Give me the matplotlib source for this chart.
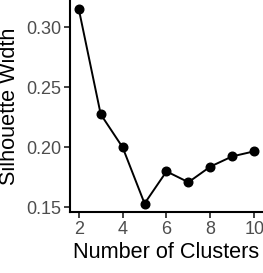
import numpy as np
import matplotlib
matplotlib.use("Agg")
import matplotlib.pyplot as plt

plt.rcParams['font.family'] = ['Liberation Sans', 'DejaVu Sans']

# silhouette width per number of clusters
clusters = [2, 3, 4, 5, 6, 7, 8, 9, 10]
sil_width = [0.315, 0.2275, 0.200, 0.1533, 0.180, 0.171, 0.184, 0.1925, 0.1967]
xticks = [2, 4, 6, 8, 10]
yticks = [0.15, 0.20, 0.25, 0.30]

fig = plt.figure(figsize=(2.63, 2.73), dpi=100)
ax = fig.add_axes([70 / 263, 61 / 273, 193 / 263, 212 / 273])

ax.plot(clusters, sil_width, color='black', lw=1.4, marker='o', ms=6.2)

ax.set_xlim(1.6, 10.4)
ax.set_ylim(0.14625, 0.3225)
ax.set_xticks(xticks)
ax.set_yticks(yticks)
ax.set_yticklabels([f"{v:.2f}" for v in yticks])

for s in ['top', 'right']:
    ax.spines[s].set_visible(False)
for s in ['left', 'bottom']:
    ax.spines[s].set_linewidth(1.5)
    ax.spines[s].set_color('black')

ax.tick_params(axis='both', length=4, width=1.3, color='#333333',
               labelsize=13, labelcolor='#4D4D4D', pad=2.5)

ax.set_xlabel("Number of Clusters", fontsize=15.6, labelpad=3)
ax.set_ylabel("Silhouette Width", fontsize=15.6, labelpad=4)

fig.savefig("out.png", dpi=100)
